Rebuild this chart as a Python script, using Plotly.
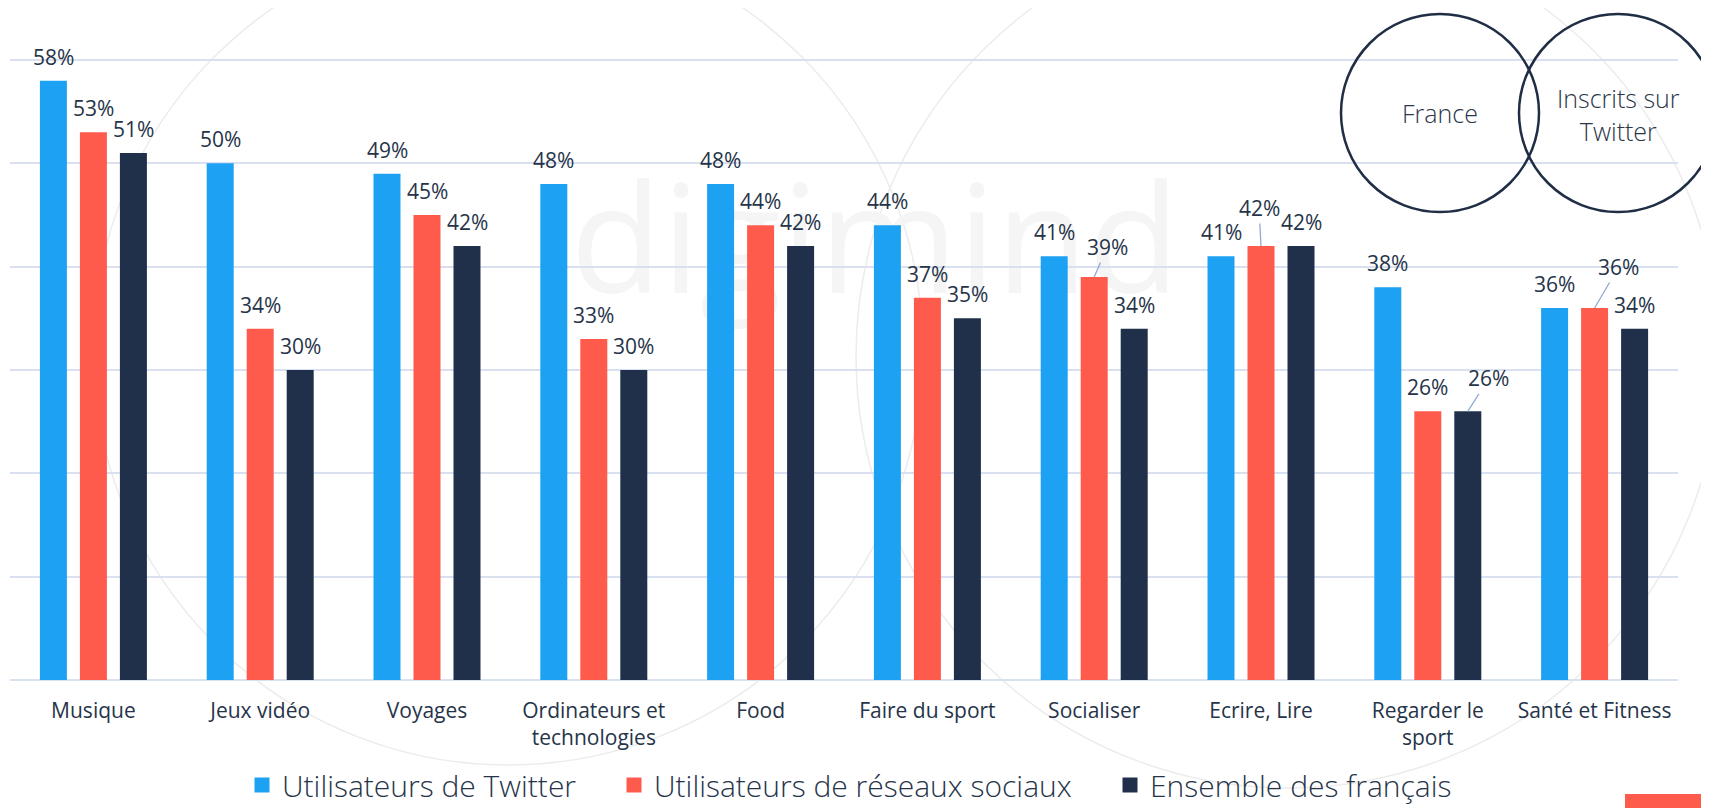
import plotly.graph_objects as go

# ---------------- data ----------------
categories = ["Musique", "Jeux vidéo", "Voyages", "Ordinateurs et<br>technologies", "Food",
              "Faire du sport", "Socialiser", "Ecrire, Lire", "Regarder le<br>sport", "Santé et Fitness"]
series_names = ["Utilisateurs de Twitter", "Utilisateurs de réseaux sociaux", "Ensemble des français"]
twitter = [58, 50, 49, 48, 48, 44, 41, 41, 38, 36]
reseaux = [53, 34, 45, 33, 44, 37, 39, 42, 26, 36]
francais = [51, 30, 42, 30, 42, 35, 34, 42, 26, 34]
venn_left_label = "France"
venn_right_label = "Inscrits sur<br>Twitter"
watermark_text = "digimind"

# ---------------- layout helpers ----------------
# the page adds an 8px body margin, so the figure is 8px smaller than the window
PAGE_OFF = 8
W, H = 1709 - PAGE_OFF, 808 - PAGE_OFF
PLOT_L, PLOT_R, PLOT_T, PLOT_B = 10, 1678, PAGE_OFF, 680   # plot area in page pixels
M_L = PLOT_L - PAGE_OFF
M_R = W - (PLOT_R - PAGE_OFF)
M_T = PLOT_T - PAGE_OFF
M_B = H - (PLOT_B - PAGE_OFF)
PW = PLOT_R - PLOT_L
PH = PLOT_B - PLOT_T
PX_PER_UNIT = 620 / 60          # 60 % spans 620 px
Y_TOP = PH / PX_PER_UNIT


def px_x(px):
    return (px - PLOT_L) / PW


def px_y(py):
    return (PLOT_B - py) / PH


colors = ["#1DA1F2", "#FF5B4C", "#21304A"]
text_color = "#263449"
grid_color = "#D9E1F1"
font_family = "Open Sans, Lato, sans-serif"
bar_offsets = [-40, 0, 40]          # px offset of each series from category centre
legend_widths = [327, 451, 300]
# a few labels were moved by hand in the original (dx, dy in px from bar top)
moved_labels = {(1, 6): (13, -30), (1, 7): (-2, -38), (2, 8): (21, -33), (1, 9): (24, -41)}

all_series = [twitter, reseaux, francais]

fig = go.Figure()
for i, (name, vals) in enumerate(zip(series_names, all_series)):
    fig.add_trace(go.Bar(
        x=categories, y=vals, name=name,
        marker=dict(color=colors[i], line=dict(width=0)),
        showlegend=False, legendgroup=name,
        hoverinfo="skip",
    ))
# legend entries with larger square swatches
for i, name in enumerate(series_names):
    fig.add_trace(go.Scatter(
        x=[None], y=[None], mode="markers", name=name, legendgroup=name,
        marker=dict(symbol="square", size=15, color=colors[i]),
        legendwidth=legend_widths[i], hoverinfo="skip",
    ))

annotations = []
for i, vals in enumerate(all_series):
    for j, v in enumerate(vals):
        base = dict(x=categories[j], y=v, xref="x", yref="y", text=f"{v}%",
                    xshift=bar_offsets[i],
                    font=dict(family=font_family, size=21, color=text_color))
        if (i, j) in moved_labels:
            dx, dy = moved_labels[(i, j)]
            base.update(showarrow=True, ax=dx, ay=dy, axref="pixel", ayref="pixel",
                        arrowhead=0, arrowwidth=1.3, arrowcolor="#8FAAD6", standoff=0)
        else:
            base.update(showarrow=False, yshift=24, yanchor="middle")
        annotations.append(base)

# Venn diagram texts
venn_font = dict(family=font_family, size=25, color="#2B3648", weight=300)
annotations.append(dict(x=px_x(1440), y=px_y(113), xref="paper", yref="paper", text=venn_left_label,
                        showarrow=False, xanchor="center", yanchor="middle", font=venn_font))
annotations.append(dict(x=px_x(1618), y=px_y(114), xref="paper", yref="paper", text=venn_right_label,
                        showarrow=False, xanchor="center", yanchor="middle", font=venn_font))

shapes = [
    # faint background circles
    dict(type="circle", xref="paper", yref="paper", layer="below",
         x0=px_x(508 - 415), x1=px_x(508 + 415), y0=px_y(350 + 415), y1=px_y(350 - 415),
         line=dict(color="#ECECEC", width=1.5)),
    dict(type="circle", xref="paper", yref="paper", layer="below",
         x0=px_x(1288 - 432), x1=px_x(1288 + 432), y0=px_y(356 + 432), y1=px_y(356 - 432),
         line=dict(color="#ECECEC", width=1.5)),
    # watermark
    dict(type="rect", xref="paper", yref="paper", layer="below",
         x0=px_x(560), x1=px_x(1190), y0=px_y(320), y1=px_y(170),
         line=dict(width=0), fillcolor="rgba(0,0,0,0)",
         label=dict(text=watermark_text, textposition="middle center",
                    font=dict(family=font_family, size=150, color="#F5F5F5"))),
    # Venn circles
    dict(type="circle", xref="paper", yref="paper",
         x0=px_x(1341), x1=px_x(1539), y0=px_y(212), y1=px_y(14),
         line=dict(color="#1F2D45", width=2.5)),
    dict(type="circle", xref="paper", yref="paper",
         x0=px_x(1519), x1=px_x(1717), y0=px_y(212), y1=px_y(14),
         line=dict(color="#1F2D45", width=2.5)),
    # page tab bottom right
    dict(type="rect", xref="paper", yref="paper",
         x0=px_x(1625), x1=px_x(1702), y0=px_y(815), y1=px_y(794),
         line=dict(width=0), fillcolor="#FF5B4C"),
]

fig.update_layout(
    width=W, height=H,
    margin=dict(l=M_L, r=M_R, t=M_T, b=M_B, autoexpand=False),
    paper_bgcolor="white", plot_bgcolor="rgba(0,0,0,0)",
    barmode="group", bargap=0.2806, bargroupgap=0.325,
    font=dict(family=font_family, color=text_color),
    showlegend=True,
    legend=dict(orientation="h", x=px_x(242), xanchor="left", y=px_y(759), yanchor="top",
                font=dict(family=font_family, size=30, color=text_color, weight=300),
                bgcolor="rgba(0,0,0,0)", traceorder="normal", itemclick=False),
    annotations=annotations,
    shapes=shapes,
)
fig.update_xaxes(showgrid=False, showline=False, ticks="",
                 tickfont=dict(family=font_family, size=21, color=text_color),
                 ticklabelstandoff=16)
fig.update_yaxes(range=[0, Y_TOP], dtick=10, showgrid=True, gridcolor=grid_color, gridwidth=1.6,
                 zeroline=True, zerolinecolor=grid_color, zerolinewidth=1.8,
                 showticklabels=False, ticks="")

fig.write_html("out.html")
